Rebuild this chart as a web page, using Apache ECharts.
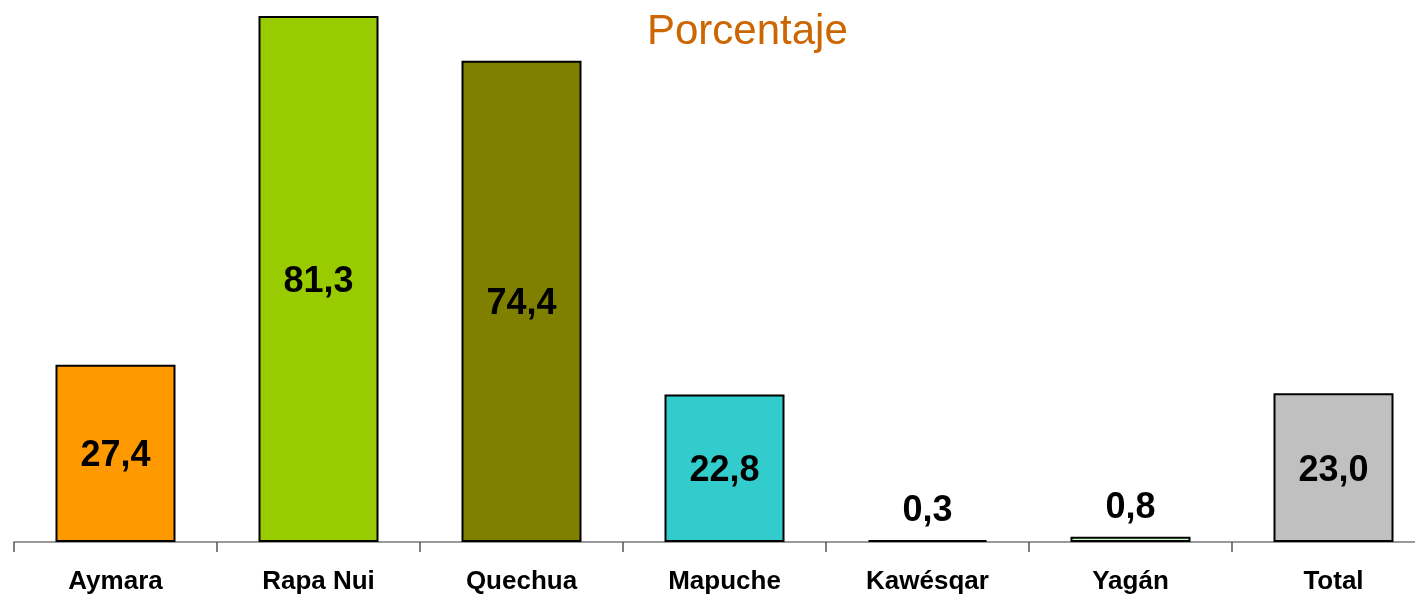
<!DOCTYPE html>
<html><head><meta charset="utf-8">
<script src="https://cdn.jsdelivr.net/npm/echarts@6/dist/echarts.min.js"></script>
<style>html,body{margin:0;padding:0;background:#fff;overflow:hidden}#c{width:1440px;height:595px}</style>
</head><body><div id="c"></div>
<script>
const categories = ['Aymara','Rapa Nui','Quechua','Mapuche','Kawésqar','Yagán','Total'];
const values = [27.4, 81.3, 74.4, 22.8, 0.3, 0.8, 23.0];
const colors = ['#FF9900','#99CC00','#808000','#33CCCC','#000000','#CCFFCC','#C0C0C0'];
const subtitle = 'Porcentaje';

const chart = echarts.init(document.getElementById('c'));
chart.setOption({
  animation: false,
  graphic: [{
    type: 'text', left: 647, top: 11,
    style: { text: subtitle, fill: '#CC6600', font: '42px "Liberation Sans", Arial, sans-serif' }
  }],
  grid: { left: 14, width: 1421, top: 16, bottom: 52, containLabel: false },
  xAxis: {
    type: 'category', data: categories,
    axisLine: { lineStyle: { color: '#7a7a7a', width: 1.5 } },
    axisTick: { show: true, length: 10, lineStyle: { color: '#555', width: 1.5 } },
    axisLabel: { margin: 27, color: '#000', fontWeight: 'bold', fontSize: 26, fontFamily: '"Liberation Sans", Arial, sans-serif' }
  },
  yAxis: { type: 'value', min: 0, max: 81.3, show: false, splitLine: { show: false } },
  series: [{
    type: 'bar', barWidth: 120,
    data: values.map((v, i) => ({
      value: v,
      itemStyle: { color: colors[i], borderColor: '#000', borderWidth: 2 },
      label: v < 5 ? { position: 'top', distance: 11 } : { position: 'inside', offset: [0, 3] }
    })),
    label: {
      show: true, color: '#000', fontWeight: 'bold', fontSize: 36,
      fontFamily: '"Liberation Sans", Arial, sans-serif',
      formatter: p => p.value.toFixed(1).replace('.', ',')
    }
  }]
});
</script></body></html>
